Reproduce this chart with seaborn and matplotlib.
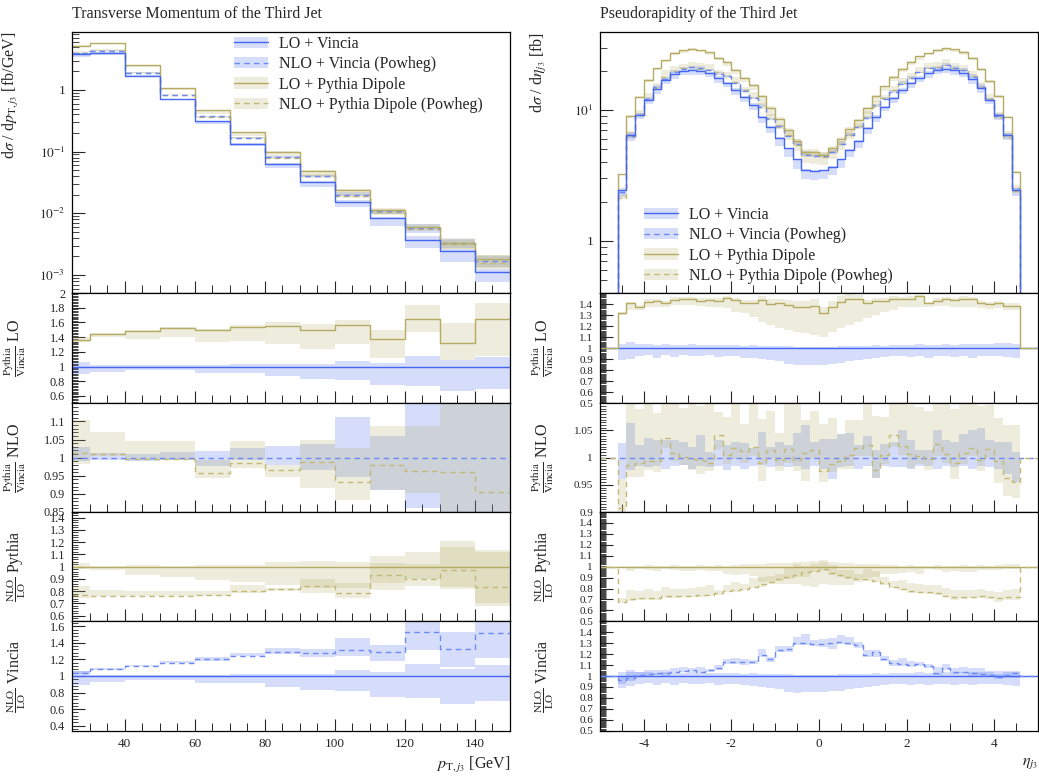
import numpy as np
import matplotlib
matplotlib.use("Agg")
import matplotlib.pyplot as plt
import seaborn as sns
from matplotlib.ticker import (FixedLocator, MultipleLocator, FuncFormatter,
                               LogLocator, NullFormatter)
from matplotlib.patches import Patch
from matplotlib.lines import Line2D

# ======================= DATA : transverse momentum of the third jet ======================
pt_edges = [25, 30, 40, 50, 60, 70, 80, 90, 100, 110, 120, 130, 140, 150]
pt_vincia_lo = [3.8, 4.0, 1.69, 0.71, 0.31, 0.135, 0.063, 0.032, 0.0153, 0.0083,
                0.0037, 0.00246, 0.00112]
# ratios
pt_r_lo = [1.36, 1.44, 1.48, 1.53, 1.50, 1.54, 1.55, 1.50, 1.57, 1.37, 1.64, 1.32, 1.64]       # Pythia LO / Vincia LO
pt_r_nlo = [1.013, 1.009, 0.997, 0.997, 0.958, 0.985, 0.967, 0.988, 0.933, 0.981, 0.963, 0.961, 0.905]  # Pythia NLO / Vincia NLO
pt_r_pythia = [0.771, 0.763, 0.763, 0.763, 0.771, 0.798, 0.817, 0.844, 0.785, 0.93, 0.903, 0.97, 0.831]  # NLO/LO Pythia
pt_r_vincia = [1.032, 1.08, 1.125, 1.16, 1.205, 1.245, 1.293, 1.273, 1.313, 1.293, 1.534, 1.321, 1.514]  # NLO/LO Vincia
# relative uncertainty bands (lower / upper, relative to own central value)
pt_vlo_lo = [0.895, 0.927, 0.95, 0.95, 0.914, 0.914, 0.868, 0.827, 0.813, 0.745, 0.732, 0.664, 0.695]
pt_vlo_hi = [1.06, 1.018, 1.018, 1.018, 1.018, 1.03, 1.03, 1.03, 1.072, 1.05, 1.15, 1.086, 1.13]
pt_plo_lo = [0.982, 0.969, 0.93, 0.912, 0.89, 0.873, 0.847, 0.824, 0.83, 0.81, 0.90, 0.82, 0.70]
pt_plo_hi = [1.026, 1.007, 1.01, 1.007, 1.011, 1.015, 1.038, 1.048, 1.038, 1.09, 1.12, 1.21, 1.134]
pt_vnlo_lo = [0.99, 0.993, 0.991, 0.993, 0.976, 0.993, 0.979, 0.967, 0.947, 0.91, 0.86, 0.84, 0.80]
pt_vnlo_hi = [1.03, 1.013, 1.011, 1.015, 1.017, 1.026, 1.032, 1.038, 1.113, 1.061, 1.16, 1.16, 1.20]
pt_pnlo_lo = [0.97, 0.995, 0.996, 0.996, 0.986, 0.985, 0.979, 0.928, 0.947, 0.928, 0.936, 0.86, 0.82]
pt_pnlo_hi = [1.09, 1.061, 1.048, 1.049, 1.036, 1.061, 1.012, 1.061, 1.10, 1.108, 1.129, 1.2, 1.35]

# ======================= DATA : pseudorapidity of the third jet ===========================
eta_edges = [-4.6, -4.4, -4.2, -4.0, -3.8, -3.6, -3.4, -3.2, -3.0, -2.8, -2.6, -2.4,
             -2.2, -2.0, -1.8, -1.6, -1.4, -1.2, -1.0, -0.8, -0.6, -0.4, -0.2, 0.0,
             0.2, 0.4, 0.6, 0.8, 1.0, 1.2, 1.4, 1.6, 1.8, 2.0, 2.2, 2.4, 2.6, 2.8,
             3.0, 3.2, 3.4, 3.6, 3.8, 4.0, 4.2, 4.4, 4.6]
eta_vincia_lo = [2.45, 6.44, 9.16, 11.9, 14.6, 17.0, 18.9, 19.8, 20.2, 20.0, 19.2, 17.6,
                 16.0, 14.2, 12.5, 11.0, 8.9, 7.45, 6.07, 5.09, 4.2, 3.5, 3.45, 3.47,
                 3.7, 4.2, 4.94, 5.8, 7.3, 8.9, 10.6, 12.3, 14.2, 16.0, 17.5, 19.3,
                 20.2, 20.6, 20.3, 19.3, 17.4, 14.7, 11.9, 9.1, 6.44, 2.44]
eta_r_lo = [1.315, 1.406, 1.376, 1.42, 1.43, 1.41, 1.44, 1.445, 1.45, 1.43, 1.436, 1.43,
            1.458, 1.436, 1.406, 1.41, 1.436, 1.40, 1.406, 1.39, 1.37, 1.37, 1.38, 1.315,
            1.376, 1.42, 1.45, 1.45, 1.41, 1.43, 1.43, 1.45, 1.45, 1.45, 1.47, 1.406,
            1.43, 1.445, 1.436, 1.45, 1.445, 1.41, 1.40, 1.406, 1.38, 1.38]
eta_r_nlo = [0.907, 0.986, 0.990, 0.993, 0.993, 1.037, 1.009, 1.002, 0.998, 0.995, 0.991, 1.042,
             1.004, 1.018, 1.012, 1.019, 0.991, 1.014, 0.995, 1.015, 0.995, 1.008, 1.014, 0.975,
             0.989, 0.994, 1.004, 1.018, 1.023, 0.978, 1.004, 1.041, 1.021, 1.006, 1.003, 0.997,
             1.026, 1.006, 0.990, 1.009, 1.018, 0.995, 1.015, 0.993, 0.963, 0.955]
eta_r_pythia = [0.673, 0.703, 0.709, 0.709, 0.709, 0.727, 0.727, 0.733, 0.733, 0.739, 0.739, 0.758,
                0.779, 0.788, 0.80, 0.818, 0.839, 0.855, 0.891, 0.909, 0.921, 0.952, 0.961, 0.976,
                0.939, 0.921, 0.909, 0.891, 0.891, 0.87, 0.848, 0.818, 0.794, 0.779, 0.77, 0.764,
                0.755, 0.733, 0.718, 0.718, 0.724, 0.727, 0.718, 0.709, 0.718, 0.718]
eta_r_vincia = [0.963, 0.979, 1.009, 1.018, 1.024, 1.024, 1.04, 1.049, 1.055, 1.04, 1.055, 1.07,
                1.131, 1.131, 1.125, 1.125, 1.193, 1.153, 1.239, 1.245, 1.30, 1.306, 1.294, 1.294,
                1.30, 1.315, 1.30, 1.284, 1.193, 1.223, 1.153, 1.116, 1.11, 1.101, 1.11, 1.092,
                1.031, 1.07, 1.04, 1.04, 1.024, 1.018, 1.009, 0.988, 1.009, 1.031]
eta_vlo_lo = [0.89, 0.905, 0.93, 0.935, 0.915, 0.935, 0.92, 0.935, 0.925, 0.93, 0.935, 0.92,
              0.93, 0.925, 0.915, 0.91, 0.9, 0.89, 0.88, 0.855, 0.845, 0.85, 0.85, 0.85,
              0.86, 0.865, 0.885, 0.89, 0.9, 0.91, 0.92, 0.925, 0.93, 0.92, 0.93, 0.915,
              0.93, 0.93, 0.92, 0.93, 0.915, 0.925, 0.93, 0.93, 0.92, 0.91]
eta_vlo_hi = [1.04, 1.055, 1.035, 1.04, 1.03, 1.035, 1.03, 1.03, 1.035, 1.03, 1.025, 1.03,
              1.025, 1.03, 1.02, 1.025, 1.02, 1.015, 1.02, 1.015, 1.01, 1.01, 1.01, 1.01,
              1.01, 1.015, 1.015, 1.02, 1.02, 1.025, 1.02, 1.025, 1.03, 1.025, 1.035, 1.03,
              1.03, 1.035, 1.03, 1.04, 1.035, 1.04, 1.04, 1.05, 1.045, 1.04]
eta_plo_lo = [0.989, 0.957, 0.98, 0.969, 0.962, 0.976, 0.965, 0.962, 0.959, 0.965, 0.958, 0.962,
              0.933, 0.926, 0.935, 0.911, 0.864, 0.864, 0.839, 0.837, 0.839, 0.827, 0.81, 0.839,
              0.836, 0.831, 0.834, 0.855, 0.90, 0.909, 0.93, 0.931, 0.945, 0.949, 0.936, 0.979,
              0.965, 0.955, 0.958, 0.949, 0.952, 0.965, 0.971, 0.967, 0.978, 0.978]
eta_plo_hi = [1.01, 1.01, 1.01, 1.015, 1.01, 1.01, 1.015, 1.01, 1.01, 1.015, 1.01, 1.015,
              1.01, 1.015, 1.02, 1.02, 1.025, 1.03, 1.03, 1.035, 1.04, 1.045, 1.05, 1.045,
              1.04, 1.035, 1.03, 1.025, 1.02, 1.02, 1.015, 1.015, 1.01, 1.015, 1.01, 1.01,
              1.015, 1.01, 1.01, 1.015, 1.01, 1.015, 1.01, 1.015, 1.02, 1.02]
eta_vnlo_lo = [0.96, 0.977, 0.985, 0.983, 0.985, 0.98, 0.985, 0.986, 0.98, 0.985, 0.983, 0.985,
               0.978, 0.985, 0.98, 0.984, 0.986, 0.982, 0.985, 0.983, 0.985, 0.98, 0.984, 0.98,
               0.96, 0.982, 0.985, 0.98, 0.984, 0.962, 0.985, 0.982, 0.983, 0.98, 0.985, 0.984,
               0.98, 0.985, 0.982, 0.985, 0.98, 0.984, 0.982, 0.98, 0.97, 0.955]
eta_vnlo_hi = [1.027, 1.063, 1.023, 1.037, 1.033, 1.032, 1.032, 1.029, 1.02, 1.041, 1.01, 1.032,
               1.023, 1.029, 1.027, 1.017, 1.048, 1.02, 1.029, 1.023, 1.046, 1.06, 1.029, 1.035,
               1.035, 1.044, 1.046, 1.023, 1.04, 1.014, 1.026, 1.029, 1.051, 1.032, 1.014, 1.014,
               1.051, 1.033, 1.029, 1.044, 1.051, 1.054, 1.032, 1.029, 1.029, 1.01]
eta_pnlo_lo = [0.985, 0.978, 0.975, 0.985, 0.98, 0.982, 0.985, 0.985, 0.98, 0.975, 0.985, 0.975,
               0.985, 0.98, 0.978, 0.985, 0.965, 0.985, 0.98, 0.975, 0.98, 0.95, 0.985, 0.98,
               0.985, 0.985, 0.975, 0.985, 0.98, 0.985, 0.985, 0.98, 0.985, 0.975, 0.985, 0.98,
               0.978, 0.985, 0.97, 0.98, 0.985, 0.98, 0.985, 0.96, 0.965, 0.97]
eta_pnlo_hi = [1.06, 1.12, 1.10, 1.12, 1.09, 1.12, 1.09, 1.09, 1.10, 1.10, 1.12, 1.04,
               1.07, 1.09, 1.05, 1.09, 1.08, 1.07, 1.05, 1.09, 1.11, 1.06, 1.07, 1.09,
               1.085, 1.05, 1.065, 1.05, 1.10, 1.10, 1.07, 1.06, 1.10, 1.09, 1.09, 1.09,
               1.10, 1.10, 1.10, 1.09, 1.09, 1.10, 1.08, 1.08, 1.10, 1.11]

legend_labels = ["LO + Vincia", "NLO + Vincia (Powheg)",
                 "LO + Pythia Dipole", "NLO + Pythia Dipole (Powheg)"]

# ======================= STYLE ==========================================================
sns.set_style("ticks")
plt.rcParams["font.family"] = ["Liberation Serif", "DejaVu Serif"]
plt.rcParams["mathtext.fontset"] = "stix"
plt.rcParams["axes.unicode_minus"] = False
plt.rcParams["xtick.direction"] = "in"
plt.rcParams["ytick.direction"] = "in"
plt.rcParams["axes.linewidth"] = 0.9
plt.rcParams["axes.edgecolor"] = "black"

BLUE = "#4466f0"
BLUE_D = "#6d8af4"
OLIVE = "#b5ab62"
OLIVE_D = "#c2b977"
BAND_A = 0.22
DASH = (0, (4, 3))
LW = 1.0

W, H = 1039, 780
fig = plt.figure(figsize=(W / 100, H / 100), dpi=100)


def px_axes(x0, x1, ytop, ybot):
    return fig.add_axes([x0 / W, 1 - ybot / H, (x1 - x0) / W, (ybot - ytop) / H])


def steps(ax, edges, vals, color, dashed=False, mode=None, floor=None, xr=None):
    e = list(np.asarray(edges, float))
    v = list(np.asarray(vals, float))
    if mode == "drop":
        x = [e[0]] + e + [e[-1]]
        y = [floor] + v + [v[-1]] + [floor]
    elif mode == "pad":
        x = [xr[0]] + e + [xr[1]]
        y = [1.0] + v + [1.0, 1.0]
    else:
        x = e
        y = v + [v[-1]]
    kw = dict(linestyle=DASH) if dashed else {}
    sns.lineplot(x=x, y=y, ax=ax, color=color, linewidth=LW, drawstyle="steps-post",
                 estimator=None, sort=False, errorbar=None, **kw)


def band(ax, edges, lo, hi, color):
    e = np.asarray(edges, float)
    lo = np.append(lo, lo[-1])
    hi = np.append(hi, hi[-1])
    ax.fill_between(e, lo, hi, step="post", color=color, alpha=BAND_A, linewidth=0)


def hline(ax, xr, color, dashed=False):
    kw = dict(linestyle=DASH) if dashed else {}
    sns.lineplot(x=[xr[0], xr[1]], y=[1.0, 1.0], ax=ax, color=color, linewidth=LW,
                 estimator=None, sort=False, errorbar=None, **kw)


def decade_fmt(v, p):
    if v <= 0:
        return ""
    e = int(round(np.log10(v)))
    return "1" if e == 0 else r"$10^{%d}$" % e


TICK_FS = 9.5
LAB_FS = 11.5


def style_common(ax, xr, xmaj, xmin):
    ax.set_xlim(*xr)
    ax.xaxis.set_major_locator(MultipleLocator(xmaj))
    ax.xaxis.set_minor_locator(MultipleLocator(xmin))
    ax.tick_params(axis="both", which="major", length=9, width=0.8, labelsize=TICK_FS,
                   top=False, right=False, pad=5)
    ax.tick_params(axis="x", which="minor", length=5.5, width=0.7, top=False)
    ax.tick_params(axis="y", which="minor", length=4, width=0.6, right=False)
    ax.set_xlabel("")
    ax.set_ylabel("")


def build_column(x0, x1, edges, vlo, r_lo, r_nlo, r_py, r_vi, vlo_b, plo_b, vnlo_b, pnlo_b,
                 xr, xmaj, xmin, main_ylim, ratio_cfg, ratio_fs, title, ylab_main, xlab,
                 leg_anchor, pad_mode):
    vlo = np.asarray(vlo, float)
    r_lo, r_nlo, r_py, r_vi = (np.asarray(a, float) for a in (r_lo, r_nlo, r_py, r_vi))
    vlo_b = [np.asarray(a, float) for a in vlo_b]
    plo_b = [np.asarray(a, float) for a in plo_b]
    vnlo_b = [np.asarray(a, float) for a in vnlo_b]
    pnlo_b = [np.asarray(a, float) for a in pnlo_b]
    plo = vlo * r_lo
    vnlo = vlo * r_vi
    pnlo = vnlo * r_nlo

    bounds = [32, 293, 403.3, 512, 621.3, 730.7]
    axes = [px_axes(x0, x1, bounds[i], bounds[i + 1]) for i in range(5)]

    # ---------------- main panel ----------------
    ax = axes[0]
    ax.set_yscale("log")
    ax.set_ylim(*main_ylim)
    band(ax, edges, vlo * vlo_b[0], vlo * vlo_b[1], BLUE)
    band(ax, edges, vnlo * vnlo_b[0], vnlo * vnlo_b[1], BLUE)
    band(ax, edges, plo * plo_b[0], plo * plo_b[1], OLIVE)
    band(ax, edges, pnlo * pnlo_b[0], pnlo * pnlo_b[1], OLIVE)
    floor = main_ylim[0] * 0.1
    mode = "drop" if pad_mode else None
    steps(ax, edges, pnlo, OLIVE_D, dashed=True, mode=mode, floor=floor)
    steps(ax, edges, vnlo, BLUE_D, dashed=True, mode=mode, floor=floor)
    steps(ax, edges, plo, OLIVE, mode=mode, floor=floor)
    steps(ax, edges, vlo, BLUE, mode=mode, floor=floor)
    ax.set_yscale("log")
    ax.set_ylim(*main_ylim)
    style_common(ax, xr, xmaj, xmin)
    ax.yaxis.set_major_locator(LogLocator(base=10, numticks=12))
    ax.yaxis.set_minor_locator(LogLocator(base=10, subs=np.arange(2, 10), numticks=12))
    ax.yaxis.set_major_formatter(FuncFormatter(decade_fmt))
    ax.yaxis.set_minor_formatter(NullFormatter())
    ax.tick_params(axis="y", which="minor", length=5)
    ax.tick_params(labelbottom=False)
    ax.set_ylabel(ylab_main, fontsize=LAB_FS, loc="top")
    ax.yaxis.set_label_coords(-0.117, 1.0)

    handles = [
        (Patch(facecolor=BLUE, alpha=BAND_A, linewidth=0), Line2D([], [], color=BLUE, lw=LW)),
        (Patch(facecolor=BLUE, alpha=BAND_A, linewidth=0), Line2D([], [], color=BLUE_D, lw=LW, linestyle=DASH)),
        (Patch(facecolor=OLIVE, alpha=BAND_A, linewidth=0), Line2D([], [], color=OLIVE, lw=LW)),
        (Patch(facecolor=OLIVE, alpha=BAND_A, linewidth=0), Line2D([], [], color=OLIVE_D, lw=LW, linestyle=DASH)),
    ]
    ax.legend(handles, legend_labels, loc="upper left", frameon=False,
              bbox_to_anchor=(leg_anchor[0] / W, 1 - leg_anchor[1] / H),
              bbox_transform=fig.transFigure, borderaxespad=0, borderpad=0,
              fontsize=11.5, handlelength=2.15, handleheight=0.7, handletextpad=0.65,
              labelspacing=0.27)

    fig.text(x0 / W, 1 - 14 / H, title, fontsize=11.5, ha="left", va="center")

    # ---------------- ratio panels ----------------
    xr_pad = xr if pad_mode else None
    pm = "pad" if pad_mode else None
    # 1: Pythia / Vincia LO
    a = axes[1]
    band(a, edges, vlo_b[0], vlo_b[1], BLUE)
    band(a, edges, r_lo * plo_b[0], r_lo * plo_b[1], OLIVE)
    hline(a, xr, BLUE)
    steps(a, edges, r_lo, OLIVE, mode=pm, xr=xr_pad)
    # 2: Pythia / Vincia NLO
    a = axes[2]
    band(a, edges, vnlo_b[0], vnlo_b[1], BLUE)
    band(a, edges, r_nlo * pnlo_b[0], r_nlo * pnlo_b[1], OLIVE)
    hline(a, xr, BLUE_D, dashed=True)
    steps(a, edges, r_nlo, OLIVE_D, dashed=True, mode=pm, xr=xr_pad)
    # 3: NLO / LO Pythia
    a = axes[3]
    band(a, edges, plo_b[0], plo_b[1], OLIVE)
    band(a, edges, r_py * pnlo_b[0], r_py * pnlo_b[1], OLIVE)
    hline(a, xr, OLIVE)
    steps(a, edges, r_py, OLIVE_D, dashed=True, mode=pm, xr=xr_pad)
    # 4: NLO / LO Vincia
    a = axes[4]
    band(a, edges, vlo_b[0], vlo_b[1], BLUE)
    band(a, edges, r_vi * vnlo_b[0], r_vi * vnlo_b[1], BLUE)
    hline(a, xr, BLUE)
    steps(a, edges, r_vi, BLUE_D, dashed=True, mode=pm, xr=xr_pad)

    for i, (ylim, ticks, minor, lab) in enumerate(ratio_cfg):
        a = axes[i + 1]
        style_common(a, xr, xmaj, xmin)
        a.set_ylim(*ylim)
        a.yaxis.set_major_locator(FixedLocator(ticks))
        a.yaxis.set_minor_locator(MultipleLocator(minor))
        a.yaxis.set_major_formatter(FuncFormatter(lambda v, p: "%g" % round(v, 3)))
        a.tick_params(axis="y", which="major", labelsize=ratio_fs)
        a.set_ylabel(lab, fontsize=LAB_FS)
        a.yaxis.set_label_coords(-0.1, 0.5)
        if i < 3:
            a.tick_params(labelbottom=False)
    axes[4].set_xlabel(xlab, fontsize=LAB_FS, loc="right", labelpad=4)
    return axes


lab_lo = r"$\frac{\mathrm{Pythia}}{\mathrm{Vincia}}$ LO"
lab_nlo = r"$\frac{\mathrm{Pythia}}{\mathrm{Vincia}}$ NLO"
lab_py = r"$\frac{\mathrm{NLO}}{\mathrm{LO}}$ Pythia"
lab_vi = r"$\frac{\mathrm{NLO}}{\mathrm{LO}}$ Vincia"

left_cfg = [
    ((0.5, 2.0), [0.6, 0.8, 1.0, 1.2, 1.4, 1.6, 1.8, 2.0], 0.02, lab_lo),
    ((0.85, 1.15), [0.85, 0.9, 0.95, 1.0, 1.05, 1.1], 0.01, lab_nlo),
    ((0.555, 1.445), [0.6, 0.7, 0.8, 0.9, 1.0, 1.1, 1.2, 1.3, 1.4], 0.02, lab_py),
    ((0.34, 1.66), [0.4, 0.6, 0.8, 1.0, 1.2, 1.4, 1.6], 0.04, lab_vi),
]
right_cfg = [
    ((0.5, 1.5), [0.5, 0.6, 0.7, 0.8, 0.9, 1.0, 1.1, 1.2, 1.3, 1.4], 0.01, lab_lo),
    ((0.9, 1.1), [0.9, 0.95, 1.0, 1.05], 0.005, lab_nlo),
    ((0.5, 1.5), [0.5, 0.6, 0.7, 0.8, 0.9, 1.0, 1.1, 1.2, 1.3, 1.4], 0.01, lab_py),
    ((0.5, 1.5), [0.5, 0.6, 0.7, 0.8, 0.9, 1.0, 1.1, 1.2, 1.3, 1.4], 0.01, lab_vi),
]

build_column(72, 510, pt_edges, pt_vincia_lo, pt_r_lo, pt_r_nlo, pt_r_pythia, pt_r_vincia,
             (pt_vlo_lo, pt_vlo_hi), (pt_plo_lo, pt_plo_hi), (pt_vnlo_lo, pt_vnlo_hi),
             (pt_pnlo_lo, pt_pnlo_hi),
             (25, 150), 20, 5, (5.1e-4, 8.7), left_cfg, 8.8,
             "Transverse Momentum of the Third Jet",
             r"d$\sigma$ / d$p_{\mathrm{T},j_3}$ [fb/GeV]",
             r"$p_{\mathrm{T},j_3}$ [GeV]", (234, 36), pad_mode=False)

build_column(600, 1038, eta_edges, eta_vincia_lo, eta_r_lo, eta_r_nlo, eta_r_pythia, eta_r_vincia,
             (eta_vlo_lo, eta_vlo_hi), (eta_plo_lo, eta_plo_hi), (eta_vnlo_lo, eta_vnlo_hi),
             (eta_pnlo_lo, eta_pnlo_hi),
             (-5, 5), 2, 0.5, (0.4, 39.5), right_cfg, 8.0,
             "Pseudorapidity of the Third Jet",
             r"d$\sigma$ / d$\eta_{j_3}$ [fb]",
             r"$\eta_{j_3}$", (644, 207), pad_mode=True)

fig.savefig("out.png", dpi=100)
